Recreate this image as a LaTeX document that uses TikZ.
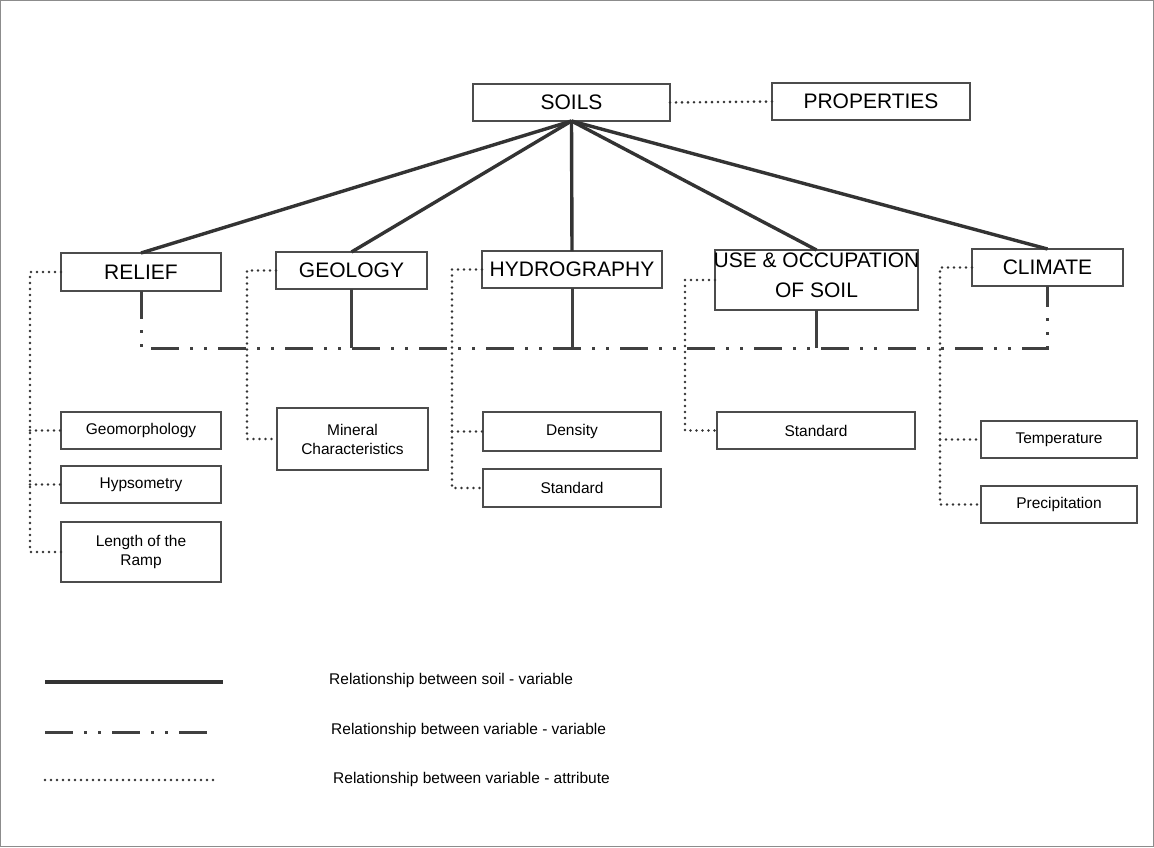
\documentclass[tikz,border=0pt]{standalone}
\usepackage{fontspec}
\setmainfont{Liberation Sans}
\begin{document}
\begin{tikzpicture}[x=1pt,y=-1pt,
  bx/.style={draw=black!70, line width=1.2pt, fill=white, inner sep=0pt, outer sep=0pt},
  varfont/.style={font=\fontsize{21}{30}\selectfont},
  attrfont/.style={font=\fontsize{15.5}{19}\selectfont, align=center},
  sv/.style={draw=black!80, line width=3.4pt},
  vv/.style={draw=black!75, line width=3pt, dash pattern=on 28pt off 11pt on 3pt off 11pt on 3pt off 11pt},
  vvstub/.style={draw=black!75, line width=3pt},
  va/.style={draw=black!80, line width=2.9pt, line cap=round, dash pattern=on 0pt off 6pt},
  lgtext/.style={font=\fontsize{15.5}{19}\selectfont, anchor=west, inner sep=0pt}
]
\useasboundingbox (0,0) rectangle (1154,847);
\fill[white] (0,0) rectangle (1154,847);
\draw[black!45, line width=1pt] (0.5,0.5) rectangle (1153.5,846.5);

% top nodes
\node[bx, varfont, minimum width=197pt, minimum height=37pt] (soils) at (571.5,102.5) {SOILS};
\node[bx, varfont, minimum width=198pt, minimum height=37pt] (props) at (871,101.5) {PROPERTIES};

% variables
\node[bx, varfont, minimum width=160pt, minimum height=38pt] (relief) at (141,272) {RELIEF};
\node[bx, varfont, minimum width=151pt, minimum height=37pt] (geology) at (351.5,270.5) {GEOLOGY};
\node[bx, varfont, minimum width=180pt, minimum height=37pt] (hydro) at (572,269.5) {HYDROGRAPHY};
\node[bx, minimum width=203pt, minimum height=60pt] (use) at (816.5,280) {};
\node[varfont, align=center, inner sep=0pt] (uselabel) at (816.5,275) {USE \& OCCUPATION\\OF SOIL};
\node[bx, varfont, minimum width=151pt, minimum height=37pt] (climate) at (1047.5,267.5) {CLIMATE};

% attributes
\node[bx, attrfont, minimum width=160pt, minimum height=37pt] (geomorph) at (141,430.5) {Geomorphology};
\node[bx, attrfont, minimum width=160pt, minimum height=37pt] (hypso) at (141,484.5) {Hypsometry};
\node[bx, attrfont, minimum width=160pt, minimum height=60pt] (ramp) at (141,552) {Length of the\\Ramp};
\node[bx, attrfont, minimum width=151pt, minimum height=62pt] (mineral) at (352.5,439) {Mineral\\Characteristics};
\node[bx, attrfont, minimum width=178pt, minimum height=39pt] (density) at (572,431.5) {Density};
\node[bx, attrfont, minimum width=178pt, minimum height=38pt] (stdh) at (572,488) {Standard};
\node[bx, attrfont, minimum width=198pt, minimum height=37pt] (stdu) at (816,430.5) {Standard};
\node[bx, attrfont, minimum width=156pt, minimum height=37pt] (temp) at (1059,439.5) {Temperature};
\node[bx, attrfont, minimum width=156pt, minimum height=37pt] (precip) at (1059,504.5) {Precipitation};

% soil - variable
\foreach \v in {relief,geology,hydro,use,climate}
  \draw[sv] (soils.south) -- (\v.north);

% soils - properties
\draw[va] (soils.east) -- (props.west);

% variable - variable
\coordinate (bus) at (0,348);
\draw[vv] (relief.south) -- (relief.south |- bus) -- (climate.south |- bus) -- (climate.south);
\draw[vvstub] (geology.south) -- (geology.south |- bus);
\draw[vvstub] (hydro.south) -- (hydro.south |- bus);
\draw[vvstub] (use.south) -- (use.south |- bus);

% variable - attribute
\coordinate (rl) at (30,0);
\coordinate (gl) at (247,0);
\coordinate (hl) at (452,0);
\coordinate (ul) at (685,0);
\coordinate (cl) at (940,0);
\draw[va] (relief.west) -| (rl |- ramp.west) -- (ramp.west);
\draw[va] (rl |- geomorph.west) -- (geomorph.west);
\draw[va] (rl |- hypso.west) -- (hypso.west);
\draw[va] (geology.west) -| (gl |- mineral.west) -- (mineral.west);
\draw[va] (hydro.west) -| (hl |- stdh.west) -- (stdh.west);
\draw[va] (hl |- density.west) -- (density.west);
\draw[va] (use.west) -| (ul |- stdu.west) -- (stdu.west);
\draw[va] (climate.west) -| (cl |- precip.west) -- (precip.west);
\draw[va] (cl |- temp.west) -- (temp.west);

% legend
\coordinate (l1a) at (45,682); \coordinate (l1b) at (223,682);
\coordinate (l2a) at (45,732); \coordinate (l2b) at (215,732);
\coordinate (l3a) at (45,780); \coordinate (l3b) at (215,780);
\draw[sv] (l1a) -- (l1b);
\draw[vv] (l2a) -- (l2b);
\draw[va] (l3a) -- (l3b);
\node[lgtext] (t1) at (329,680) {Relationship between soil - variable};
\node[lgtext] (t2) at (331,730) {Relationship between variable - variable};
\node[lgtext] (t3) at (333,779) {Relationship between variable - attribute};
\end{tikzpicture}
\end{document}
